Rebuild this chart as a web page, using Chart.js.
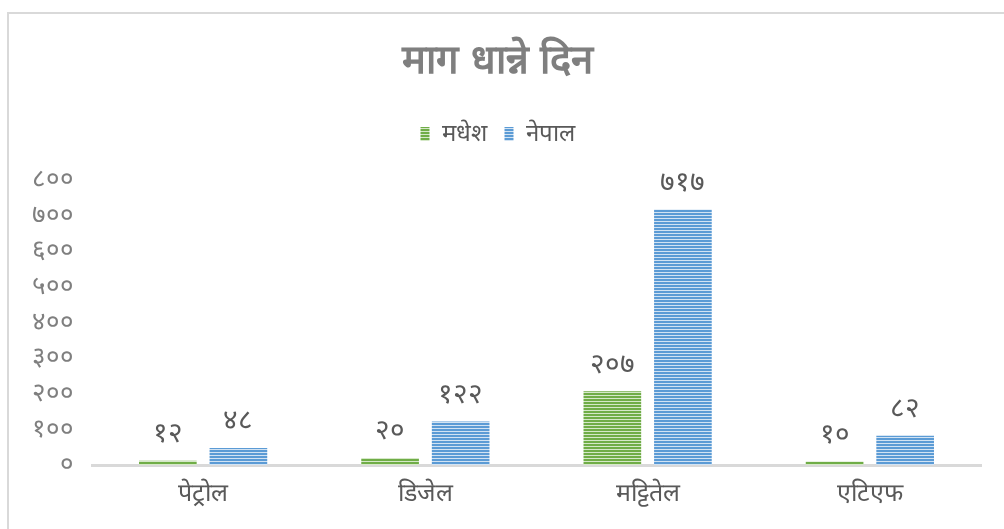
<!DOCTYPE html>
<html>
<head>
<meta charset="utf-8">
<script src="https://cdn.jsdelivr.net/npm/chart.js@4.4.0/dist/chart.umd.min.js"></script>
<style>
  html, body { margin: 0; padding: 0; background: #fff; }
  #wrap { width: 1004px; height: 529px; }
</style>
</head>
<body>
<div id="wrap"><canvas id="barChart" width="1004" height="529"></canvas></div>
<script>
let categories = ['पेट्रोल', 'डिजेल', 'मट्टितेल', 'एटिएफ'];
let madhesh = [12, 20, 207, 10];
let nepal = [48, 122, 717, 82];
let seriesNames = ['मधेश', 'नेपाल'];
let yTicks = [0, 100, 200, 300, 400, 500, 600, 700, 800];

const devDigits = '०१२३४५६७८९';
function toDev(n) {
  return String(n).replace(/\d/g, d => devDigits[d]);
}

function stripes(dark, light) {
  let c = document.createElement('canvas');
  c.width = 4; c.height = 3;
  let g = c.getContext('2d');
  g.fillStyle = light; g.fillRect(0, 0, 4, 3);
  g.fillStyle = dark; g.fillRect(0, 0, 4, 2);
  return g.createPattern(c, 'repeat');
}

let ctx = document.getElementById('barChart').getContext('2d');
let greenFill = stripes('#70ad47', '#d5e8c8');
let blueFill = stripes('#5b9bd5', '#d2e3f3');

const frame = {
  id: 'frame',
  beforeDraw(chart) {
    let g = chart.ctx;
    g.save();
    g.strokeStyle = '#d9d9d9';
    g.lineWidth = 2;
    g.beginPath();
    g.moveTo(8, 529);
    g.lineTo(8, 13);
    g.lineTo(1004, 13);
    g.stroke();
    g.restore();
  }
};

// extra room under the legend
const legendGap = {
  id: 'legendGap',
  beforeInit(chart) {
    const fit = chart.legend.fit;
    chart.legend.fit = function () {
      fit.bind(chart.legend)();
      this.height += 24;
    };
  }
};

const valueLabels = {
  id: 'valueLabels',
  afterDatasetsDraw(chart) {
    let g = chart.ctx;
    g.save();
    g.font = '28px "DejaVu Sans", sans-serif';
    g.fillStyle = '#595959';
    g.textAlign = 'center';
    g.textBaseline = 'bottom';
    chart.data.datasets.forEach((ds, i) => {
      chart.getDatasetMeta(i).data.forEach((bar, j) => {
        g.fillText(toDev(ds.data[j]), bar.x, bar.y - 12);
      });
    });
    g.restore();
  }
};

let barChart = new Chart(ctx, {
  type: 'bar',
  data: {
    labels: categories,
    datasets: [
      { label: seriesNames[0], data: madhesh, backgroundColor: greenFill, barPercentage: 0.817, categoryPercentage: 0.635 },
      { label: seriesNames[1], data: nepal, backgroundColor: blueFill, barPercentage: 0.817, categoryPercentage: 0.635 }
    ]
  },
  options: {
    responsive: false,
    animation: false,
    layout: { padding: { left: 14, right: 23, top: 38, bottom: 6 } },
    plugins: {
      title: {
        display: true,
        text: 'माग धान्ने दिन',
        color: '#7f7f7f',
        font: { size: 40, weight: 'bold' },
        padding: { top: 0, bottom: 18 }
      },
      legend: {
        position: 'top',
        labels: {
          color: '#595959',
          font: { size: 24 },
          boxWidth: 9,
          boxHeight: 14,
          padding: 18
        }
      },
      tooltip: { enabled: false }
    },
    scales: {
      x: {
        grid: { display: false, drawTicks: false },
        border: { color: '#d9d9d9', width: 3 },
        ticks: { color: '#595959', font: { size: 25 }, padding: 14 }
      },
      y: {
        min: 0,
        max: 800,
        afterBuildTicks(axis) { axis.ticks = yTicks.map(v => ({ value: v })); },
        grid: { display: false, drawTicks: false },
        border: { display: false },
        ticks: {
          color: '#7f7f7f',
          font: { size: 26 },
          padding: 18,
          autoSkip: false,
          callback: v => toDev(v)
        }
      }
    }
  },
  plugins: [frame, legendGap, valueLabels]
});
</script>
</body>
</html>
